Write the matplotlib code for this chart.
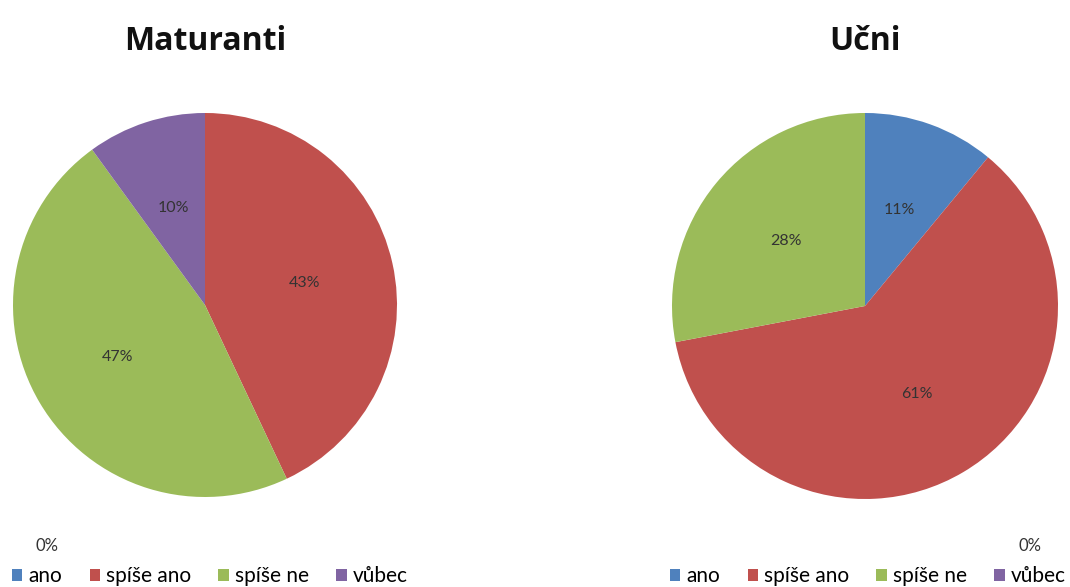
import matplotlib
matplotlib.use("Agg")
import matplotlib.pyplot as plt
from matplotlib.patches import Patch

categories = ["ano", "spíše ano", "spíše ne", "vůbec"]
maturanti = [0, 43, 47, 10]
ucni = [11, 61, 28, 0]
titles = ["Maturanti", "Učni"]
colors = ["#4F81BD", "#C0504D", "#9BBB59", "#8064A2"]

plt.rcParams['font.family'] = ['Lato', 'DejaVu Sans']

W, H = 1070, 587
fig = plt.figure(figsize=(W/100, H/100), dpi=100)

def add_pie(cx, cy, r, values, title, legend_x, zero_pos):
    ax = fig.add_axes([(cx - r)/W, 1 - (cy + r)/H, 2*r/W, 2*r/H])
    ax.pie(values, colors=colors, startangle=90, counterclock=False,
           radius=1, autopct=lambda p: f"{p:.0f}%" if p > 0.5 else "",
           pctdistance=0.53, textprops=dict(fontsize=11.5, color="#333333"),
           wedgeprops=dict(linewidth=0))
    ax.set_xlim(-1, 1); ax.set_ylim(-1, 1)
    ax.set_aspect("equal")
    ax.axis("off")
    fig.text(cx/W, 1 - 41/H, title, ha="center", va="center",
             fontsize=23, fontweight="bold", color="#111111",
             family=["Open Sans", "DejaVu Sans"])
    for v in values:
        if v == 0:
            fig.text(zero_pos[0]/W, 1 - zero_pos[1]/H, "0%", ha="center",
                     va="center", fontsize=12, color="#333333")
    handles = [Patch(facecolor=c, edgecolor="none") for c in colors]
    fig.legend(handles, categories, loc="center left",
               bbox_to_anchor=(legend_x/W, 1 - 576/H), ncol=4, frameon=False,
               fontsize=15, handlelength=0.5, handleheight=0.5,
               handletextpad=0.3, columnspacing=1.3, borderaxespad=0,
               borderpad=0)

add_pie(205, 305, 192, maturanti, titles[0], 12, (47, 546))
add_pie(865, 306, 193, ucni, titles[1], 670, (1030, 546))

fig.savefig("out.png", dpi=100)
